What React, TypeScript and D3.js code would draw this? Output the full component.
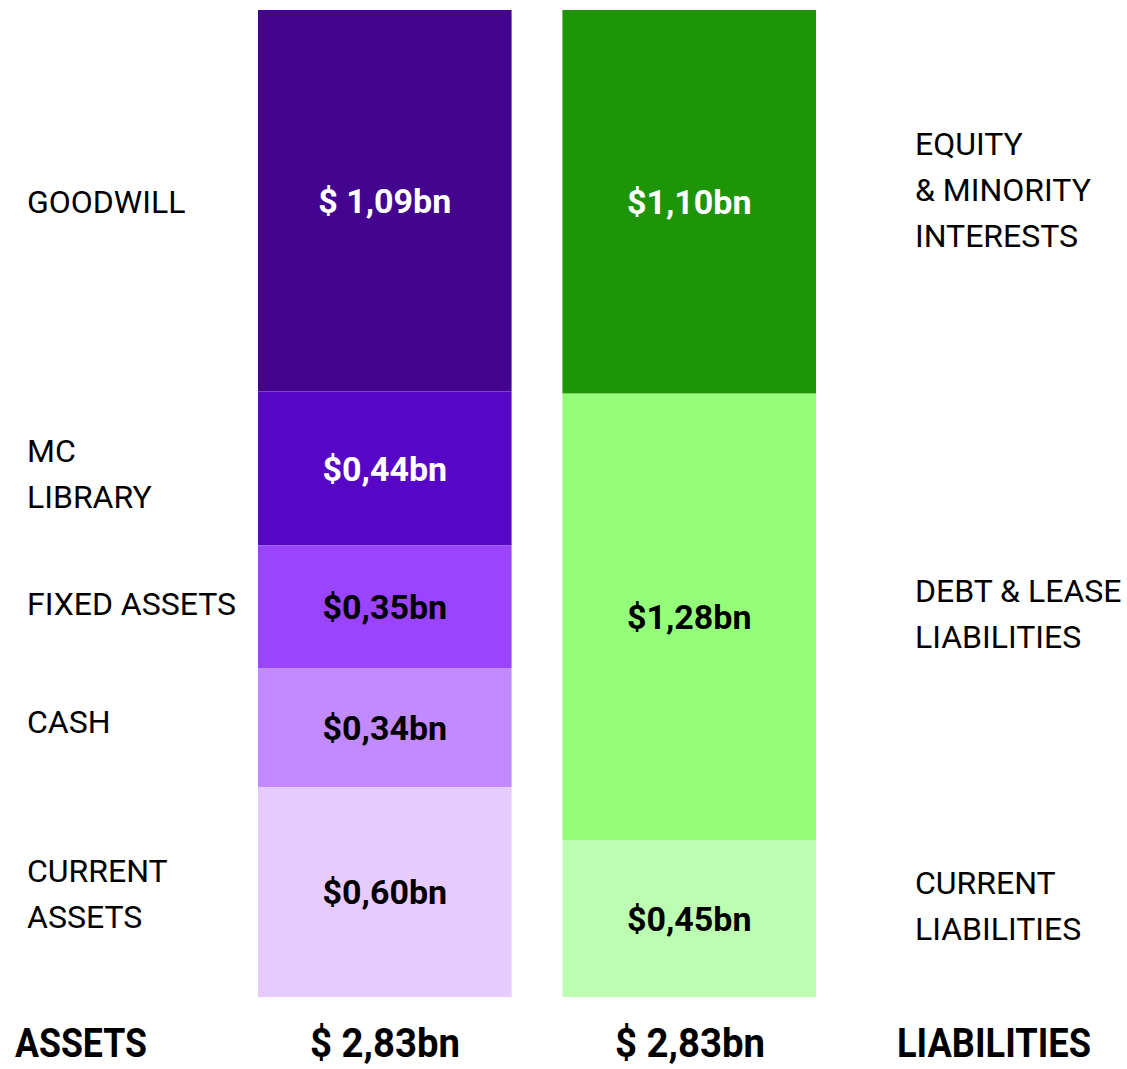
import React from 'react'
import * as d3 from 'd3'

const W = 1127
const H = 1069
const margin = { top: 10, bottom: 72 }

const assetNames = ['GOODWILL', 'MC\nLIBRARY', 'FIXED ASSETS', 'CASH', 'CURRENT\nASSETS']
const assetValues = [1.09, 0.44, 0.35, 0.34, 0.60]
const assetLabels = ['$ 1,09bn', '$0,44bn', '$0,35bn', '$0,34bn', '$0,60bn']
const assetColors = ['#43048f', '#5806c6', '#9a44ff', '#c28aff', '#e7cbff']
const assetText = ['#fff', '#fff', '#000', '#000', '#000']

const liabNames = ['EQUITY\n& MINORITY\nINTERESTS', 'DEBT & LEASE\nLIABILITIES', 'CURRENT\nLIABILITIES']
const liabValues = [1.10, 1.28, 0.45]
const liabLabels = ['$1,10bn', '$1,28bn', '$0,45bn']
const liabColors = ['#1e9407', '#94fe7a', '#bdfdb1']
const liabText = ['#fff', '#000', '#000']

const columns = ['ASSETS', 'LIABILITIES']
const totals = ['$ 2,83bn', '$ 2,83bn']

const font = 'Roboto, "Liberation Sans", sans-serif'

function stack(values: number[]) {
  const ends = d3.cumsum(values)
  return values.map((v, i) => ({ y0: ends[i] - v, y1: ends[i] }))
}

export default function App() {
  const x = d3.scaleBand<string>()
    .domain(columns)
    .range([258, 816])
    .paddingInner(0.167)

  // small nudges so the side labels sit like in the original slide
  const assetShift = [1, 5, -3, -6, 1]
  const liabShift = [-12, -3, -13]

  const sides = [
    { key: 'ASSETS', names: assetNames, values: assetValues, labels: assetLabels, colors: assetColors, text: assetText, labelX: 27, shift: assetShift },
    { key: 'LIABILITIES', names: liabNames, values: liabValues, labels: liabLabels, colors: liabColors, text: liabText, labelX: 915, shift: liabShift },
  ]

  return (
    <svg width={W} height={H} style={{ display: 'block', position: 'absolute', left: 0, top: 0 }}>
      <rect width={W} height={H} fill="#fff" />
      {sides.map(s => {
        const y = d3.scaleLinear()
          .domain([0, d3.sum(s.values)])
          .range([margin.top, H - margin.bottom])
        const segs = stack(s.values)
        const bx = x(s.key)!
        const bw = x.bandwidth()
        return (
          <g key={s.key}>
            {segs.map((d, i) => (
              <rect key={i} x={bx} y={y(d.y0)} width={bw} height={y(d.y1) - y(d.y0)} fill={s.colors[i]} />
            ))}
            {segs.map((d, i) => (
              <text key={'v' + i} x={bx + bw / 2} y={(y(d.y0) + y(d.y1)) / 2} dy="0.36em"
                textAnchor="middle" fontFamily={font} fontWeight={700} fontSize={34} fill={s.text[i]}>
                {s.labels[i]}
              </text>
            ))}
            {segs.map((d, i) => {
              const lines = s.names[i].split('\n')
              const cy = (y(d.y0) + y(d.y1)) / 2 + s.shift[i]
              const lh = 46
              return (
                <text key={'n' + i} fontFamily={font} fontSize={32} fill="#000">
                  {lines.map((l, j) => (
                    <tspan key={j} x={s.labelX} y={cy + (j - (lines.length - 1) / 2) * lh} dy="0.36em">{l}</tspan>
                  ))}
                </text>
              )
            })}
          </g>
        )
      })}
      <g fontFamily={font} fontWeight={700} fontSize={40} fill="#000">
        <text x={15} y={1057} textLength={132} lengthAdjust="spacingAndGlyphs">ASSETS</text>
        <text x={310} y={1057} textLength={150} lengthAdjust="spacingAndGlyphs">{totals[0]}</text>
        <text x={615} y={1057} textLength={150} lengthAdjust="spacingAndGlyphs">{totals[1]}</text>
        <text x={897} y={1057} textLength={194} lengthAdjust="spacingAndGlyphs">LIABILITIES</text>
      </g>
    </svg>
  )
}
